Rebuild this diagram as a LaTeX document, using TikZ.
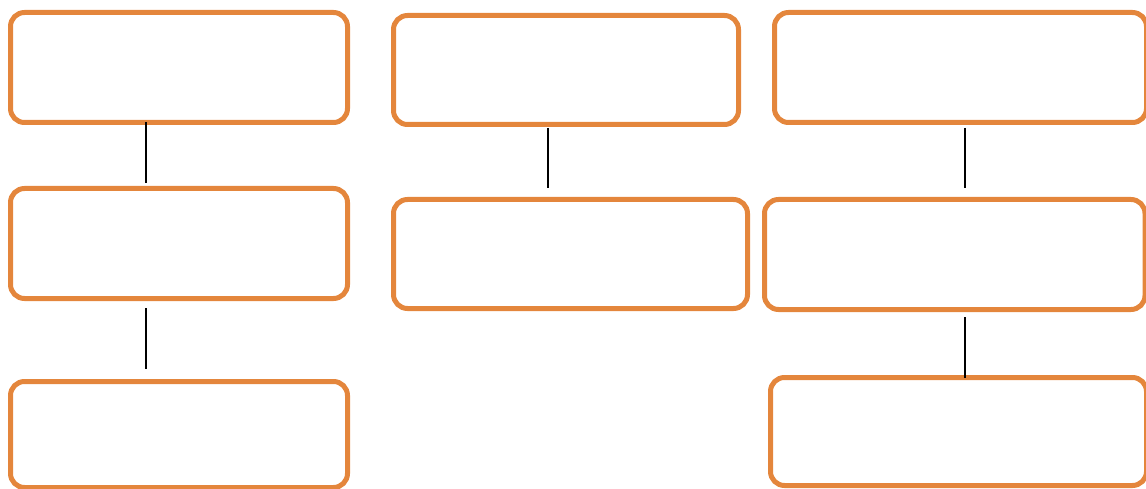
\documentclass[tikz,border=0pt]{standalone}
\definecolor{boxorange}{RGB}{228,134,60}
\tikzset{
  box/.style={draw=boxorange, line width=5pt, rounded corners=14pt, inner sep=0pt, outer sep=0pt},
  link/.style={draw=black, line width=1.8pt}
}
\begin{document}
\begin{tikzpicture}[x=1pt,y=-1pt]
\useasboundingbox (0,0) rectangle (1146,489);
\foreach \n/\x/\y/\w/\h in {l1/179/67.5/337/110, l2/179/243.5/337/110, l3/179/434.5/337/106,
  m1/566/70/345/109, m2/570.5/254/354/109,
  r1/960.5/67.5/372/110, r2/954.75/254.5/380.5/110, r3/958.5/431.5/376/108} {
\node[box, minimum width=\w pt, minimum height=\h pt] (\n) at (\x,\y) {};
}
\coordinate (lx) at (146,0);
\coordinate (mx) at (548,0);
\coordinate (rx) at (965,0);
\foreach \a/\b/\c/\s/\e in {l1/l2/lx/0/5.5, l2/l3/lx/9.5/12.5, m1/m2/mx/3.5/11.5, r1/r2/rx/5.5/11.5, r2/r3/rx/7.5/0} {
\draw[link, shorten <=\s pt, shorten >=\e pt] (\a.south -| \c) -- (\b.north -| \c);
}
\end{tikzpicture}
\end{document}
